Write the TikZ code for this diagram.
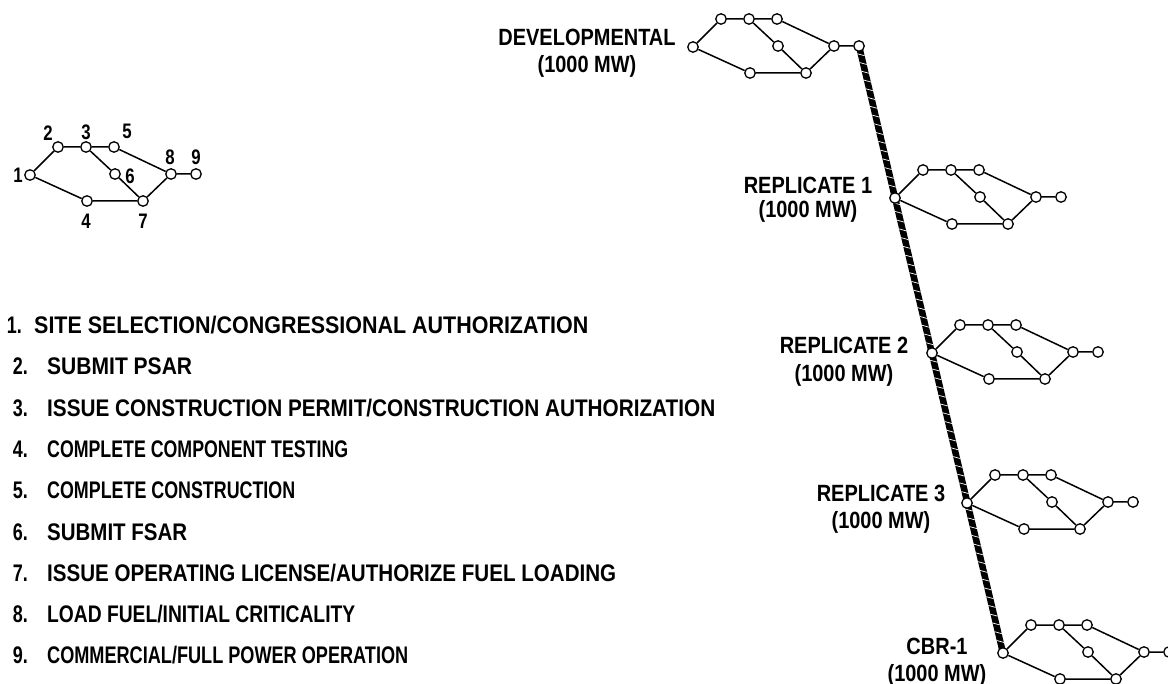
\documentclass[tikz,border=0pt]{standalone}
\usepackage{graphicx}
\usepackage{fontspec}
\setmainfont{Liberation Sans}[FakeStretch=0.75]
\newfontfamily\tagfont{Liberation Sans}[FakeStretch=0.85]
\newfontfamily\digfont{Liberation Sans}[FakeStretch=0.8]
\usetikzlibrary{decorations.markings,backgrounds}

\tikzset{
  ev/.style={circle, draw, fill=white, line width=1.3pt, minimum size=10.5pt, inner sep=0pt},
  act/.style={line width=1.5pt},
  rope/.style={line width=6.5pt, postaction={decorate, decoration={markings,
      mark=between positions 0 and 1 step 9pt with {\draw[white, line width=0.7pt] (-1.8pt,-3.3pt) -- (1.8pt,3.3pt);}}}},
  item/.style={inner sep=0pt, font=\bfseries\fontsize{24}{26}\selectfont},
  tag/.style={inner sep=0pt, anchor=base, font=\tagfont\bfseries\fontsize{23.5}{26}\selectfont},
  num/.style={inner sep=0pt, font=\digfont\bfseries\fontsize{21}{23}\selectfont}
}

% one milestone network: prefix, x and y of event 1
\newcommand{\pertnet}[3]{%
  \foreach \k/\dx/\dy in {1/0/0,2/28/-28,3/56/-28,5/84/-28,6/85/-1,4/57/26,7/113/26,8/141/-1,9/166/-1}{
    \node[ev] (#1\k) at ({#2+(\dx)},{#3+(\dy)}) {};
  }
  \draw[act] (#11)--(#12) (#12)--(#13) (#13)--(#15) (#15)--(#18)
             (#13)--(#16) (#16)--(#17) (#11)--(#14) (#14)--(#17)
             (#17)--(#18) (#18)--(#19);
}
% list entry set to a given width
\newcommand{\entry}[2]{\resizebox{#1pt}{\height}{#2}}

\begin{document}
\begin{tikzpicture}[x=1pt, y=-1pt]
\useasboundingbox (0,0) rectangle (1168,684);

% key network with event numbers
\pertnet{key}{30}{175}
\node[num] (k1) at (18,175) {1};
\node[num] (k2) at (48,133) {2};
\node[num] (k3) at (86,132) {3};
\node[num] (k5) at (127,131) {5};
\node[num] (k6) at (130,176) {6};
\node[num] (k8) at (170,157) {8};
\node[num] (k9) at (196,157) {9};
\node[num] (k4) at (86,221) {4};
\node[num] (k7) at (143,221) {7};

% list of events
\node[item, anchor=base east] (n1) at (22,333.5) {1.};
\node[item, anchor=base west] (t1) at (34,333.5) {\entry{554}{SITE SELECTION/CONGRESSIONAL AUTHORIZATION}};
\node[item, anchor=base east] (n2) at (28,374.8) {2.};
\node[item, anchor=base west] (t2) at (47,374.8) {\entry{145}{SUBMIT PSAR}};
\node[item, anchor=base east] (n3) at (28,416.1) {3.};
\node[item, anchor=base west] (t3) at (47,416.1) {\entry{668}{ISSUE CONSTRUCTION PERMIT/CONSTRUCTION AUTHORIZATION}};
\node[item, anchor=base east] (n4) at (28,457.4) {4.};
\node[item, anchor=base west] (t4) at (47,457.4) {\entry{301}{COMPLETE COMPONENT TESTING}};
\node[item, anchor=base east] (n5) at (28,498.7) {5.};
\node[item, anchor=base west] (t5) at (47,498.7) {\entry{248}{COMPLETE CONSTRUCTION}};
\node[item, anchor=base east] (n6) at (28,540) {6.};
\node[item, anchor=base west] (t6) at (47,540) {\entry{140}{SUBMIT FSAR}};
\node[item, anchor=base east] (n7) at (28,581.3) {7.};
\node[item, anchor=base west] (t7) at (47,581.3) {\entry{569}{ISSUE OPERATING LICENSE/AUTHORIZE FUEL LOADING}};
\node[item, anchor=base east] (n8) at (28,622.6) {8.};
\node[item, anchor=base west] (t8) at (47,622.6) {\entry{308}{LOAD FUEL/INITIAL CRITICALITY}};
\node[item, anchor=base east] (n9) at (28,663.9) {9.};
\node[item, anchor=base west] (t9) at (47,663.9) {\entry{361}{COMMERCIAL/FULL POWER OPERATION}};

% plant schedules
\pertnet{dev}{693}{47}
\pertnet{rone}{895}{198}
\pertnet{rtwo}{932}{353}
\pertnet{rthree}{967}{503}
\pertnet{cbr}{1003}{653}

% sequence line linking the plants
\begin{scope}[on background layer]
  \draw[rope] (dev9.center) -- (cbr1.center);
\end{scope}

\node[tag] (devA) at (587,45.5) {DEVELOPMENTAL};
\node[tag] (devB) at (587,73) {(1000 MW)};
\node[tag] (roneA) at (808,194) {REPLICATE 1};
\node[tag] (roneB) at (808,218) {(1000 MW)};
\node[tag] (rtwoA) at (844,354) {REPLICATE 2};
\node[tag] (rtwoB) at (844,382) {(1000 MW)};
\node[tag] (rthreeA) at (881,501.5) {REPLICATE 3};
\node[tag] (rthreeB) at (881,529) {(1000 MW)};
\node[tag] (cbrA) at (937,654) {CBR-1};
\node[tag] (cbrB) at (937,681.5) {(1000 MW)};
\end{tikzpicture}
\end{document}
